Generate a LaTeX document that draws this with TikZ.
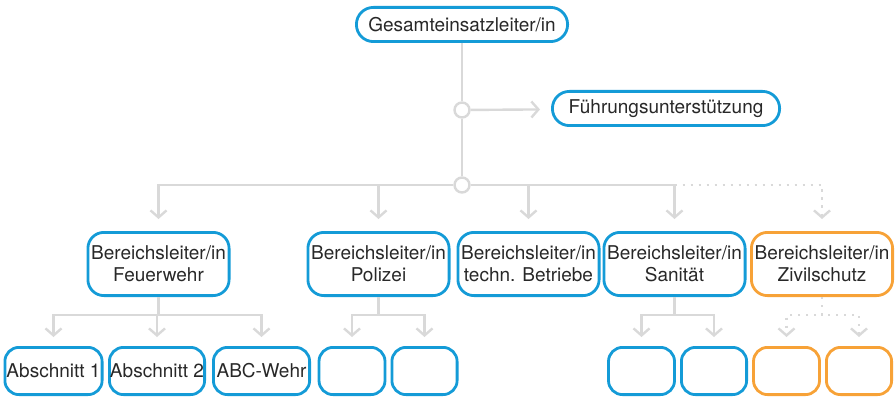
\documentclass[tikz,border=0pt]{standalone}
\usepackage{fontspec}
\setmainfont{TeX Gyre Heros}
\usepackage{tikz}
\usetikzlibrary{arrows.meta}

\definecolor{boxblue}{RGB}{20,155,215}
\definecolor{boxorange}{RGB}{247,162,55}
\definecolor{linegray}{RGB}{217,217,217}
\definecolor{textgray}{RGB}{40,40,40}

\begin{document}
\begin{tikzpicture}[x=1pt, y=-1pt,
        box/.style={draw=boxblue, line width=2.8pt, rounded corners=14pt, align=center,
            text=textgray, inner sep=0pt, font=\fontsize{19}{22}\selectfont},
        pill/.style={box, rounded corners=17pt, minimum height=34.2pt},
        lead/.style={box, rounded corners=16pt, minimum width=141.2pt, minimum height=63.2pt},
        unit/.style={box, minimum height=47.2pt},
        civil/.style={draw=boxorange},
        jct/.style={circle, draw=linegray, fill=white, line width=2.4pt, minimum size=15pt, inner sep=0pt},
        conn/.style={draw=linegray, line width=2.4pt},
        tip/.style={-{Straight Barb[length=7pt,width=16pt]}},
        dots/.style={dash pattern=on 2.4pt off 5.6pt}]
        \useasboundingbox (0,0) rectangle (896,398);

        \node[pill, minimum width=211.2pt] (gel) at (462,24.5) {Gesamteinsatzleiter/in};
        \node[pill, minimum width=227.2pt] (fu) at (666,108.5) {Führungsunterstützung};
        \node[jct] (j1) at (462,110) {};
        \node[jct] (j2) at (462,185) {};

        \node[lead] (feu) at (158.5,264) {Bereichsleiter/in\\Feuerwehr};
        \node[lead] (pol) at (378.5,264) {Bereichsleiter/in\\Polizei};
        \node[lead] (tec) at (528.5,264) {Bereichsleiter/in\\techn. Betriebe};
        \node[lead] (san) at (674.5,264) {Bereichsleiter/in\\Sanität};
        \node[lead, civil] (ziv) at (822,264) {Bereichsleiter/in\\Zivilschutz};

        \node[unit, minimum width=97.2pt] (feu1) at (53.5,371) {Abschnitt 1};
        \node[unit, minimum width=95.2pt] (feu2) at (157,371) {Abschnitt 2};
        \node[unit, minimum width=96.2pt] (feu3) at (261.5,371) {ABC-Wehr};
        \node[unit, minimum width=66pt] (pol1) at (352,371) {};
        \node[unit, minimum width=65.2pt] (pol2) at (424.5,371) {};
        \node[unit, minimum width=66pt] (san1) at (641.5,371) {};
        \node[unit, minimum width=65.2pt] (san2) at (714,371) {};
        \node[unit, civil, minimum width=66pt] (ziv1) at (786.5,371) {};
        \node[unit, civil, minimum width=65.2pt] (ziv2) at (859,371) {};

        \draw[conn] (gel) -- (j1);
        \draw[conn] (j1) -- (j2);
        \draw[conn, tip, shorten >=11pt] (j1) -- (fu);

        \draw[conn, tip, shorten >=12pt] (j2) -| (feu);
        \draw[conn, tip, shorten >=12pt] (j2) -| (pol);
        \draw[conn, tip, shorten >=12pt] (j2) -| (tec);
        \draw[conn, tip, shorten >=12pt] (j2) -| (san);
        \draw[conn, dots, tip, shorten >=12pt] (j2 -| san.north) -| (ziv);

        \draw[conn, tip, shorten >=9pt] (feu.south) -- ++(0,18) -| (feu1);
        \draw[conn, tip, shorten >=9pt] (feu.south) -- ++(0,18) -| (feu2);
        \draw[conn, tip, shorten >=9pt] (feu.south) -- ++(0,18) -| (feu3);
        \draw[conn, tip, shorten >=9pt] (pol.south) -- ++(0,18) -| (pol1);
        \draw[conn, tip, shorten >=9pt] (pol.south) -- ++(0,18) -| (pol2);
        \draw[conn, tip, shorten >=9pt] (san.south) -- ++(0,18) -| (san1);
        \draw[conn, tip, shorten >=9pt] (san.south) -- ++(0,18) -| (san2);
        \draw[conn, dots, tip, shorten >=9pt] (ziv.south) -- ++(0,18) -| (ziv1);
        \draw[conn, dots, tip, shorten >=9pt] (ziv.south) -- ++(0,18) -| (ziv2);
    \end{tikzpicture}
\end{document}
